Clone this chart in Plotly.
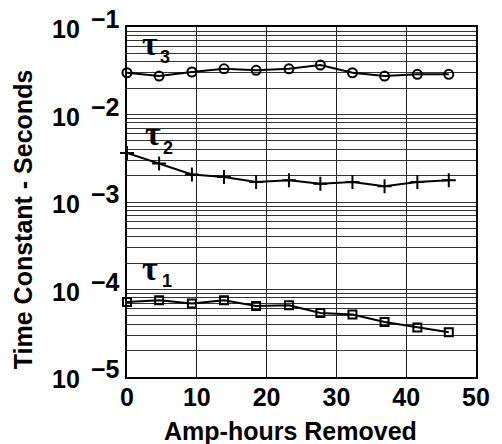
import math
import plotly.graph_objects as go

amp_hours = [0, 4.6, 9.3, 13.9, 18.5, 23.2, 27.7, 32.3, 36.9, 41.6, 46.1]
tau3 = [0.0300, 0.0275, 0.0306, 0.0333, 0.0320, 0.0333, 0.0368, 0.0300, 0.0275, 0.0288, 0.0288]
tau2 = [0.00363, 0.00275, 0.00206, 0.00193, 0.00169, 0.00177, 0.00162, 0.00169, 0.00151, 0.00169, 0.00177]
tau1 = [7.2e-5, 7.53e-5, 6.9e-5, 7.53e-5, 6.48e-5, 6.6e-5, 5.39e-5, 5.17e-5, 4.25e-5, 3.67e-5, 3.24e-5]

x_ticks = [0, 10, 20, 30, 40, 50]
y_exponents = [-1, -2, -3, -4, -5]
y_base_label = "10"
series_names = ["3", "2", "1"]

FONT = "Liberation Sans, Arial, sans-serif"
L, T, W, H = 127, 27, 360, 350  # plot area in pixels

fig = go.Figure()
styles = [
    (tau3, dict(symbol="circle-open", size=9)),
    (tau2, dict(symbol="cross-thin-open", size=10)),
    (tau1, dict(symbol="square-open", size=8)),
]
for vals, m in styles:
    fig.add_trace(go.Scatter(
        x=amp_hours, y=vals, mode="lines+markers",
        line=dict(color="black", width=2),
        marker=dict(color="black", line=dict(color="black", width=2), **m),
        cliponaxis=False, showlegend=False))

grid_vals = []
for e in range(-5, 0):
    for k in range(1, 10):
        v = k * 10.0 ** e
        if 1e-5 <= v <= 0.1 + 1e-12:
            grid_vals.append(v)

fig.update_layout(
    width=502, height=444,
    margin=dict(l=L, r=502 - L - W, t=T, b=444 - T - H),
    paper_bgcolor="white", plot_bgcolor="white",
    font=dict(family=FONT, color="black"),
    xaxis=dict(range=[0, 50], tickvals=x_ticks, ticktext=[f"<b>{t}</b>" for t in x_ticks],
               tickfont=dict(size=25, family=FONT), ticks="", showgrid=True,
               ticklabelstandoff=-3,
               gridcolor="#222", gridwidth=1, showline=True, linecolor="black",
               linewidth=2, mirror=True, zeroline=False),
    yaxis=dict(type="log", range=[-5, -1], tickvals=grid_vals, showticklabels=False,
               ticks="", showgrid=True, gridcolor="#333", gridwidth=1,
               showline=True, linecolor="black", linewidth=2, mirror=True,
               zeroline=False),
)


def px(xp):
    return (xp - L) / W


def py(yp):
    return (T + H - yp) / H


for e in y_exponents:
    fig.add_annotation(x=-0.13, xref="paper", y=e, yref="y", text=f"<b>{y_base_label}</b>",
                       showarrow=False, xanchor="right", yanchor="middle", yshift=-2,
                       font=dict(size=25, family=FONT))
    fig.add_annotation(x=-0.11, xref="paper", y=e, yref="y", text=f"<b>\u2212{abs(e)}</b>",
                       showarrow=False, xanchor="left", yanchor="middle", yshift=8,
                       font=dict(size=25, family=FONT))

# tau labels: (glyph centre), (subscript centre) in pixels
tau_pos = [((151, 43), (166, 57)), ((154, 133), (169, 148)), ((151, 268), (168, 281))]
for sub, (tp, sp) in zip(series_names, tau_pos):
    fig.add_annotation(x=px(tp[0]), xref="paper", y=py(tp[1]), yref="paper",
                       text="<b>\u03c4</b>", showarrow=False, xanchor="center", yanchor="middle",
                       font=dict(size=34, family="Liberation Serif"))
    fig.add_annotation(x=px(sp[0]), xref="paper", y=py(sp[1]), yref="paper",
                       text=f"<b>{sub}</b>", showarrow=False, xanchor="center", yanchor="middle",
                       font=dict(size=18, family=FONT))

fig.add_annotation(x=px(20), xref="paper", y=py(219), yref="paper",
                   text="<b>Time Constant - Seconds</b>", textangle=-90, showarrow=False,
                   xanchor="center", yanchor="middle", font=dict(size=25, family=FONT))
fig.add_annotation(x=px(296), xref="paper", y=py(431), yref="paper",
                   text="<b>Amp-hours Removed</b>", showarrow=False,
                   xanchor="center", yanchor="middle", font=dict(size=25, family=FONT))

fig.write_html("out.html", config={"displayModeBar": False},
               post_script="document.body.style.margin='0';")
